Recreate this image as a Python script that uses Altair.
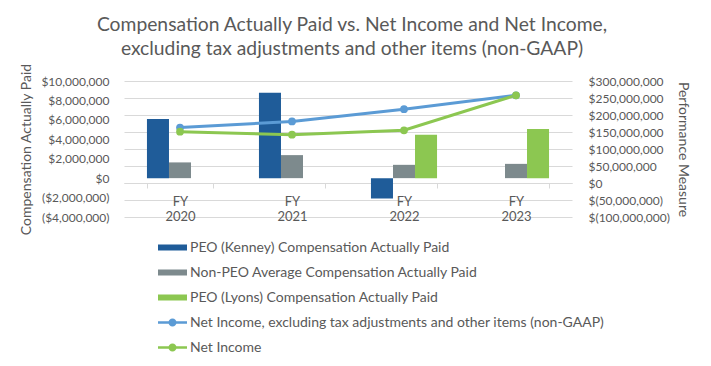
import altair as alt
import pandas as pd

years = ["FY 2020", "FY 2021", "FY 2022", "FY 2023"]
kenney = [6.1e6, 8.8e6, -2.1e6, None]
non_peo = [1.62e6, 2.37e6, 1.37e6, 1.47e6]
lyons = [None, None, 4.46e6, 5.05e6]
non_gaap = [163e6, 181e6, 217e6, 258e6]
net_income = [151e6, 142e6, 155e6, 258e6]

bar_names = [
    "PEO (Kenney) Compensation Actually Paid",
    "Non-PEO Average Compensation Actually Paid",
    "PEO (Lyons) Compensation Actually Paid",
]
line_names = [
    "Net Income, excluding tax adjustments and other items (non-GAAP)",
    "Net Income",
]
series_names = bar_names + line_names
colors = ["#1F5C99", "#7D8A8D", "#8CC751", "#5B9BD5", "#8CC751"]

left_ticks = [-4e6, -2e6, 0, 2e6, 4e6, 6e6, 8e6, 10e6]
right_ticks = [-100e6, -50e6, 0, 50e6, 100e6, 150e6, 200e6, 250e6, 300e6]

rows = []
for name, vals in zip(bar_names, [kenney, non_peo, lyons]):
    for y, v in zip(years, vals):
        if v is not None:
            rows.append({"year": y, "series": name, "value": v})
bars_df = pd.DataFrame(rows)

rows = []
for name, vals in zip(line_names, [non_gaap, net_income]):
    for y, v in zip(years, vals):
        rows.append({"year": y, "series": name, "value": v})
lines_df = pd.DataFrame(rows)

FONT = "Lato"
TXT = "#595959"
GRID = "#D9D9D9"

RECT = "M-1,-0.21L1,-0.21L1,0.21L-1,0.21Z"
LINEPT = ("M-1,-0.09L1,-0.09L1,0.09L-1,0.09Z "
          "M-0.28,0A0.28,0.28,0,1,1,0.28,0A0.28,0.28,0,1,1,-0.28,0Z")

legend = alt.Legend(
    title=None, orient="none", legendX=34, legendY=154, direction="vertical",
    labelFontSize=14, labelColor=TXT, labelFont=FONT, symbolSize=841,
    symbolOpacity=1, symbolStrokeWidth=0, rowPadding=0, clipHeight=25, labelLimit=600,
    symbolOffset=0, labelOffset=3, padding=0,
)

color = alt.Color("series:N", scale=alt.Scale(domain=series_names, range=colors), legend=legend)

x = alt.X(
    "year:N", sort=years,
    scale=alt.Scale(paddingInner=0.41, paddingOuter=0.205),
    axis=alt.Axis(
        title=None, labelAngle=0, labelExpr="split(datum.label, ' ')",
        offset=-34, domainColor=GRID, tickColor=GRID, tickBand="extent",
        tickSize=5, labelPadding=7, labelLineHeight=15, labelFontSize=13,
        labelColor=TXT, labelFont=FONT, grid=False,
    ),
)

y_left = alt.Y(
    "value:Q",
    scale=alt.Scale(domain=[-4e6, 10e6], nice=False, zero=False),
    axis=alt.Axis(
        title="Compensation Actually Paid", values=left_ticks,
        labelExpr="datum.value < 0 ? '($' + format(-datum.value, ',') + ')' : '$' + format(datum.value, ',')",
        grid=False, domain=False, ticks=False, labelPadding=15, titlePadding=7,
        labelFontSize=12, titleFontSize=14, labelColor=TXT, titleColor=TXT,
        labelFont=FONT, titleFont=FONT, titleFontWeight="normal",
    ),
)

y_right = alt.Y(
    "value:Q",
    scale=alt.Scale(domain=[-100e6, 300e6], nice=False, zero=False),
    axis=alt.Axis(
        orient="right", title="Performance Measure", values=right_ticks,
        labelExpr="datum.value < 0 ? '$(' + format(-datum.value, ',') + ')' : '$' + format(datum.value, ',')",
        grid=True, gridColor=GRID, domain=False, ticks=False, labelPadding=16,
        titlePadding=6, labelFontSize=12, titleFontSize=14, labelColor=TXT,
        titleColor=TXT, labelFont=FONT, titleFont=FONT, titleFontWeight="normal",
    ),
)

bars = alt.Chart(bars_df).mark_bar().encode(
    x=x, y=y_left, color=color,
    xOffset=alt.XOffset("series:N", scale=alt.Scale(domain=bar_names, paddingInner=0, paddingOuter=0)),
)

lines = alt.Chart(lines_df).mark_line(strokeWidth=3).encode(x=x, y=y_right, color=color)
points = alt.Chart(lines_df).mark_point(filled=True, size=60, opacity=1).encode(x=x, y=y_right, color=color)
legend_layer = alt.Chart(lines_df).mark_point(filled=True, opacity=0).encode(
    x=x, y=y_right, color=color,
    shape=alt.Shape("series:N", scale=alt.Scale(domain=series_names, range=[RECT, RECT, RECT, LINEPT, LINEPT]), legend=legend),
)

chart = alt.layer(bars, alt.layer(lines, points, legend_layer)).resolve_scale(y="independent").properties(
    width=448, height=136,
    title=alt.TitleParams(
        text=["Compensation Actually Paid vs. Net Income and Net Income,",
              "excluding tax adjustments and other items (non-GAAP)"],
        fontSize=19.3, font=FONT, color=TXT, fontWeight="normal", anchor="middle",
        offset=4, lineHeight=23.5, dx=4,
    ),
    autosize=alt.AutoSizeParams(type="none"),
    padding={"left": 116, "top": 73, "right": 130, "bottom": 140},
).configure_view(stroke=None)

chart.save("out.html", embed_options={"renderer": "svg", "actions": False})
